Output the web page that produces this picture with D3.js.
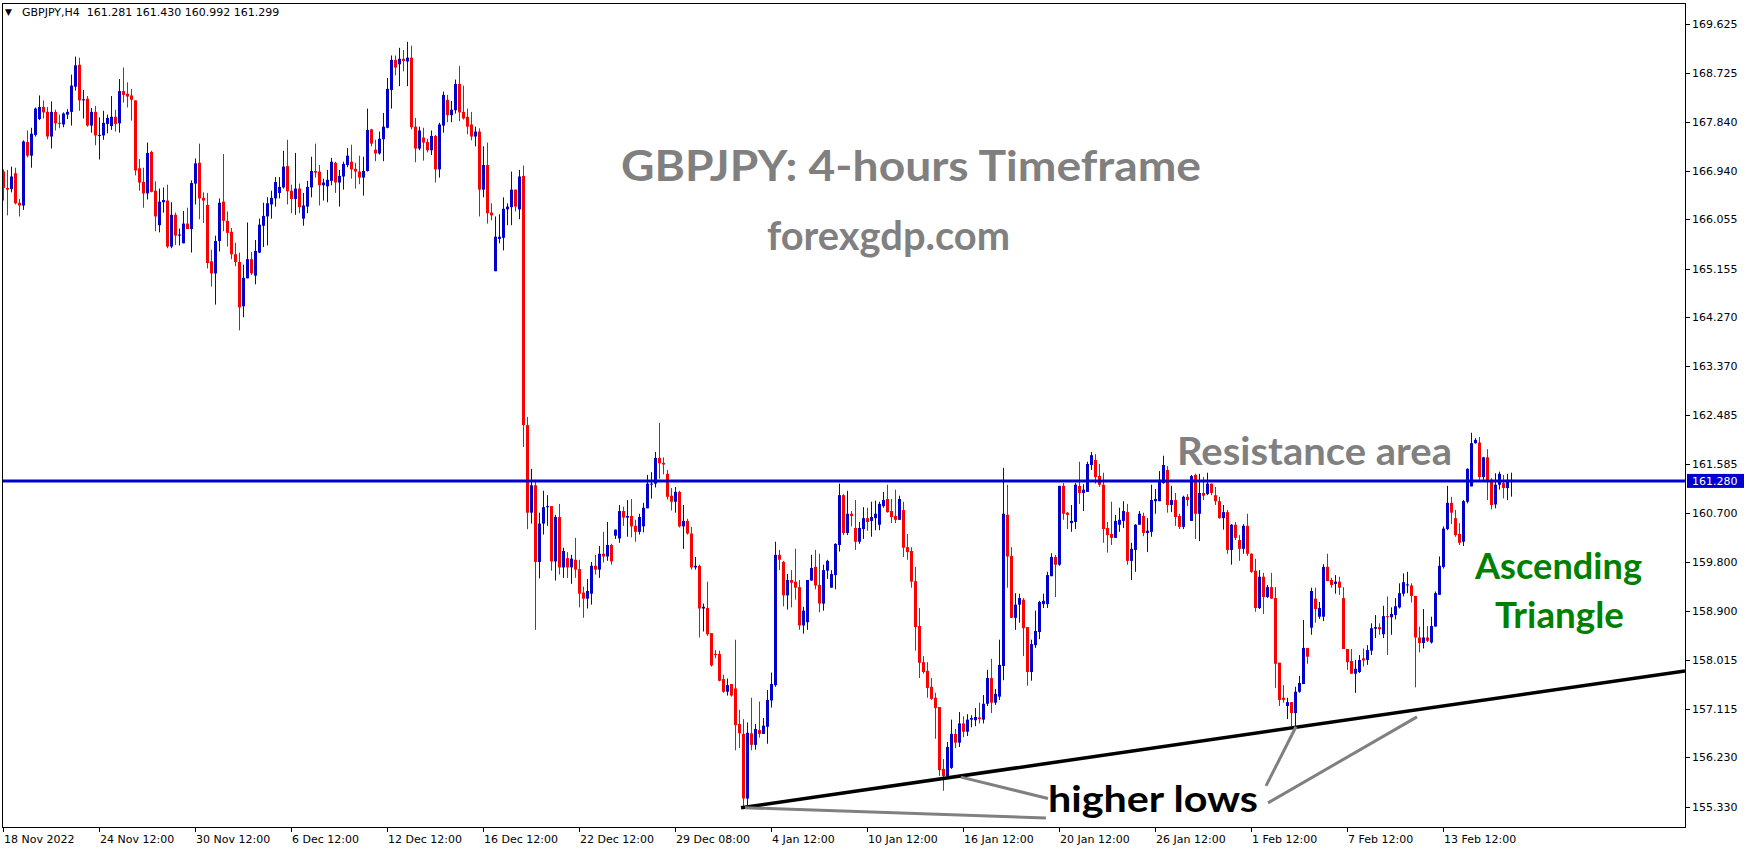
<!DOCTYPE html>
<html><head><meta charset="utf-8">
<script src="https://cdn.jsdelivr.net/npm/d3@7/dist/d3.min.js"></script>
<style>html,body{margin:0;padding:0;background:#fff;}svg{display:block;}</style>
</head><body>
<svg id="chart" width="1749" height="850"></svg>
<script>
// ---- data (GBPJPY H4, one value per 4-hour bar) ----
const open = [
166.93,166.63,166.61,166.90,166.36,166.31,167.47,167.22,167.60,167.89,
168.11,168.02,167.57,168.02,167.82,167.79,167.97,168.02,168.48,168.88,
168.23,168.26,167.77,168.02,167.59,167.59,167.80,167.76,167.93,167.81,
168.40,168.35,168.32,168.23,166.99,166.74,166.53,167.29,166.58,165.95,
166.37,166.40,165.56,166.14,165.76,165.62,165.98,165.88,166.71,167.09,
166.45,166.32,165.29,165.07,165.66,166.38,166.03,165.83,165.42,165.28,
164.47,164.98,165.33,165.03,165.45,165.94,166.11,166.33,166.44,166.54,
166.64,167.03,166.58,166.43,166.62,166.07,166.29,166.64,166.94,166.93,
166.68,166.66,166.76,167.09,166.73,166.84,167.05,167.11,166.98,166.93,
166.82,166.94,167.70,167.33,167.26,167.52,167.73,168.42,168.97,168.89,
168.99,168.94,169.01,167.75,167.35,167.55,167.47,167.32,167.58,166.97,
167.77,168.24,167.96,168.05,168.53,168.02,167.93,167.79,167.57,167.66,
166.60,167.05,166.18,165.11,165.70,165.72,166.24,166.28,166.60,166.24,
166.85,162.30,160.70,161.20,159.80,160.50,160.80,160.82,159.81,160.62,
159.70,159.87,159.70,159.84,159.67,159.24,159.13,159.22,159.73,159.66,
159.95,159.90,160.11,160.28,160.23,160.73,160.61,160.64,160.46,160.35,
160.45,160.78,161.22,161.23,161.70,161.61,161.41,161.01,160.90,161.08,
160.45,160.55,160.32,159.70,159.73,158.95,158.96,158.50,158.12,158.12,
157.66,157.43,157.57,157.49,156.84,156.66,155.48,156.67,156.46,156.73,
156.66,156.79,157.27,157.55,159.93,159.80,159.19,159.47,159.44,159.34,
158.64,158.70,159.46,159.71,159.38,159.04,159.64,159.33,159.56,160.11,
161.02,160.33,160.68,160.42,160.17,160.40,160.60,160.55,160.60,160.48,
160.82,160.95,160.73,160.64,160.57,160.75,160.07,160.00,159.45,158.63,
157.97,157.81,157.52,157.32,157.15,156.02,155.89,156.04,156.66,156.50,
156.85,156.70,156.92,156.91,156.96,156.92,157.21,157.68,157.23,157.34,
157.90,160.66,159.91,158.78,159.02,159.11,158.61,157.79,158.28,158.52,
159.03,159.03,159.54,159.89,159.75,161.19,160.70,160.51,160.53,161.19,
161.06,161.08,161.57,161.66,161.37,161.21,160.42,160.31,160.24,160.48,
160.55,160.71,159.82,160.02,160.48,160.64,160.33,160.35,160.91,160.91,
161.24,161.48,160.84,160.93,160.64,160.44,160.99,160.55,161.39,160.68,
161.06,161.04,161.23,161.02,160.91,160.60,160.71,160.02,160.48,160.20,
160.04,160.46,159.95,159.64,158.96,159.53,159.16,159.34,159.14,157.96,
157.32,157.17,157.24,157.04,157.43,157.57,158.23,158.60,159.13,158.80,
158.80,159.71,159.47,159.40,159.44,159.14,158.21,157.99,157.76,157.79,
158.04,158.01,158.18,158.58,158.61,158.48,158.81,158.79,158.83,158.97,
159.22,159.37,159.37,159.18,158.42,158.32,158.42,158.33,158.62,159.20,
159.71,160.40,160.88,160.60,160.31,160.17,160.90,161.18,161.97,161.98,
161.35,161.71,161.30,160.85,161.21,161.24,161.15,161.281];
const high = [
166.97,166.96,167.02,167.00,166.43,167.50,167.68,167.73,168.10,168.32,
168.23,168.11,168.21,168.06,167.97,168.01,168.07,168.70,169.03,169.01,
168.42,168.31,168.09,168.13,167.92,168.04,167.97,168.31,168.06,168.62,
168.83,168.56,168.44,168.23,167.16,167.00,167.46,167.31,166.75,166.62,
166.64,166.69,166.37,166.18,165.89,166.21,166.27,166.77,167.17,167.44,
166.55,166.54,165.50,165.76,166.44,167.25,166.20,165.90,165.63,165.45,
165.23,166.00,165.46,165.68,166.07,166.36,166.46,166.58,166.83,166.83,
167.31,167.51,166.69,167.27,166.71,166.54,166.76,167.20,167.44,167.05,
166.80,166.96,167.18,167.11,166.96,167.11,167.36,167.42,167.09,167.22,
167.20,168.08,167.71,167.51,167.66,168.00,168.64,169.05,169.05,169.19,
169.15,169.30,169.23,167.91,167.75,167.73,167.53,167.68,167.60,167.82,
168.39,168.33,168.22,168.61,168.86,168.50,168.08,168.02,167.75,167.72,
167.39,167.46,166.35,166.11,166.15,166.46,166.35,166.93,166.60,166.96,
167.04,162.45,161.50,161.30,160.70,161.10,161.02,160.82,160.66,160.86,
160.06,159.98,159.93,160.24,159.84,159.35,159.49,159.80,159.93,160.09,
160.35,160.53,160.13,160.39,160.84,160.81,160.93,160.95,160.57,160.68,
160.88,161.39,161.44,161.81,162.34,161.71,161.48,161.15,161.17,161.10,
160.84,160.59,160.44,159.89,159.75,159.04,159.44,158.50,158.19,158.18,
157.74,157.67,157.57,158.38,157.10,156.93,156.87,157.32,156.84,157.25,
156.95,157.46,157.78,160.17,160.02,159.82,159.58,159.65,160.04,159.47,
158.98,159.47,159.93,160.02,159.95,159.75,159.84,159.65,160.14,161.23,
161.04,161.10,160.73,160.93,160.53,160.80,160.79,160.90,160.92,160.90,
161.08,161.21,160.95,161.12,161.01,160.90,160.31,160.07,159.71,158.96,
158.08,157.97,157.68,157.41,157.15,156.20,156.51,156.92,156.75,157.06,
156.98,157.02,157.00,157.13,157.23,157.37,157.83,158.03,157.48,158.38,
161.52,161.21,160.07,159.23,159.22,159.14,158.61,158.38,158.91,159.09,
159.22,159.62,159.96,159.93,161.19,161.24,160.71,160.84,161.24,161.63,
161.22,161.63,161.81,161.77,161.59,161.43,160.53,160.90,160.66,160.79,
160.91,160.86,160.15,160.49,160.73,160.70,160.60,161.21,161.13,161.46,
161.74,161.55,161.19,161.06,160.68,161.01,161.04,161.39,161.41,161.41,
161.35,161.43,161.23,161.17,160.99,160.84,160.75,160.49,160.53,160.29,
160.49,160.68,159.96,159.86,159.65,159.60,159.38,159.60,159.34,157.96,
157.55,157.32,157.24,157.52,157.72,158.74,158.23,159.33,159.33,159.07,
159.76,159.95,159.51,159.56,159.53,159.34,158.21,158.21,158.01,158.10,
158.22,158.28,158.68,158.83,158.68,159.00,159.17,158.97,159.14,159.41,
159.59,159.62,159.41,159.18,158.62,158.94,158.63,158.80,159.26,159.90,
160.45,161.19,160.99,160.75,160.51,160.93,161.51,162.16,162.06,162.08,
161.72,161.86,161.33,161.42,161.45,161.39,161.41,161.430];
const low = [
166.40,166.13,166.55,166.33,166.11,166.23,167.19,167.00,167.57,167.87,
167.90,167.52,167.35,167.68,167.72,167.74,167.89,167.77,168.41,168.04,
167.90,167.75,167.64,167.41,167.15,167.51,167.63,167.69,167.66,167.64,
168.19,168.10,167.86,166.86,166.58,166.27,166.42,166.55,165.84,165.82,
166.18,165.53,165.53,165.59,165.58,165.62,165.88,165.45,166.33,166.06,
165.99,165.16,164.83,164.50,165.47,165.84,165.56,165.33,165.20,164.03,
164.27,164.98,165.04,164.87,165.44,165.55,165.58,166.07,166.29,166.44,
166.62,166.33,166.17,166.14,166.17,165.94,166.17,166.46,166.82,166.31,
166.40,166.37,166.68,166.54,166.29,166.60,167.01,166.80,166.62,166.70,
166.49,166.93,167.39,167.12,167.24,167.12,167.72,168.08,168.69,168.49,
168.76,168.49,167.70,167.10,167.32,167.13,167.28,167.23,166.73,166.82,
167.64,167.83,167.83,167.99,167.85,167.88,167.61,167.50,167.39,166.11,
166.46,165.98,166.04,165.11,165.62,165.49,165.95,165.95,166.20,166.06,
161.90,160.40,160.50,158.56,159.50,160.30,160.46,159.64,159.46,159.57,
159.51,159.51,159.40,159.51,158.97,158.78,158.95,159.02,159.57,159.51,
159.79,159.82,159.75,160.22,160.15,160.46,160.26,160.25,160.17,160.30,
160.34,160.78,160.96,161.16,161.32,161.40,160.94,160.74,160.70,160.43,
160.04,160.30,159.66,159.66,158.42,158.53,158.45,157.89,158.04,157.62,
157.41,157.36,157.34,156.36,156.40,155.33,155.33,156.36,156.37,156.59,
156.66,156.48,157.14,157.52,159.65,158.99,158.93,158.97,159.11,158.56,
158.49,158.56,159.46,159.30,158.88,158.91,159.49,159.33,159.30,159.99,
160.29,160.29,160.45,160.02,160.13,160.22,160.37,160.26,160.38,160.38,
160.79,160.70,160.51,160.51,160.57,159.89,159.84,159.33,158.18,157.68,
157.76,157.32,157.28,156.57,155.89,155.62,155.89,156.02,156.40,156.42,
156.60,156.62,156.78,156.80,156.85,156.85,157.17,157.04,157.19,157.28,
157.64,159.33,158.78,158.56,158.69,158.08,157.54,157.63,158.23,158.39,
158.96,158.96,159.54,159.16,159.73,160.57,160.40,160.35,160.40,160.86,
160.73,161.08,161.48,161.23,161.17,160.15,159.97,160.11,160.24,160.35,
160.42,159.75,159.47,159.62,160.48,160.27,159.98,160.26,160.68,160.91,
161.23,160.70,160.71,160.46,160.40,160.40,160.82,160.55,160.22,160.18,
160.93,161.02,161.02,160.84,160.59,160.39,159.95,159.75,160.20,159.82,
159.95,159.91,159.60,158.89,158.94,158.85,159.14,159.13,157.50,157.17,
157.23,156.93,156.79,156.77,157.41,157.57,157.94,158.47,158.69,158.76,
158.72,159.45,159.33,159.22,159.20,158.21,157.83,157.76,157.41,157.77,
157.89,157.92,158.10,158.41,158.47,158.41,158.10,158.47,158.75,158.95,
159.17,159.23,159.06,157.51,158.15,158.22,158.34,158.31,158.62,159.20,
159.68,160.38,160.49,160.26,160.11,160.09,160.87,161.18,161.96,161.30,
161.30,160.93,160.76,160.78,161.12,160.96,160.93,160.992];
const close = [
166.63,166.60,166.84,166.35,166.31,167.48,167.22,167.62,168.08,168.11,
168.01,167.57,168.02,167.81,167.81,167.99,168.02,168.50,168.87,168.23,
168.25,167.77,168.02,167.59,167.60,167.82,167.91,167.93,167.80,168.40,
168.33,168.30,168.24,166.95,166.73,166.53,167.27,166.56,166.11,166.38,
166.41,165.56,166.14,165.76,165.78,165.98,165.88,166.72,167.08,166.44,
166.40,165.26,165.07,165.66,166.36,166.03,165.81,165.42,165.28,164.45,
164.99,165.33,165.07,165.48,165.96,166.12,166.35,166.45,166.74,166.65,
167.02,166.57,166.43,166.62,166.28,166.31,166.65,166.94,166.91,166.68,
166.73,166.78,167.11,166.73,166.85,167.07,167.22,166.97,166.93,166.82,
166.94,167.69,167.44,167.26,167.53,167.75,168.44,168.97,168.83,168.99,
168.95,169.01,167.74,167.35,167.68,167.46,167.32,167.58,166.97,167.79,
168.33,167.96,168.06,168.53,168.01,167.90,167.75,167.57,167.66,166.60,
167.05,166.17,166.13,165.74,165.74,166.25,166.29,166.60,166.29,166.84,
162.30,160.70,161.20,159.80,160.50,160.80,160.82,159.81,160.62,159.70,
160.00,159.70,159.86,159.66,159.22,159.13,159.27,159.73,159.66,159.95,
159.90,160.11,159.81,160.39,160.73,160.61,160.64,160.45,160.35,160.62,
160.79,161.23,161.23,161.70,161.60,161.58,160.99,160.90,161.08,160.45,
160.55,160.32,159.70,159.73,158.95,158.98,158.48,157.91,158.10,157.63,
157.43,157.55,157.36,156.82,156.67,155.48,156.68,156.46,156.75,156.66,
156.81,157.28,157.57,159.93,159.84,159.19,159.47,159.42,159.33,158.64,
158.91,159.47,159.69,159.37,159.04,159.65,159.82,159.58,160.13,161.02,
160.33,160.68,160.64,160.17,160.42,160.60,160.53,160.62,160.68,160.86,
160.93,160.71,160.62,160.57,160.95,160.06,159.98,159.44,158.61,157.96,
157.79,157.50,157.30,157.13,156.00,155.89,156.42,156.66,156.50,156.85,
156.70,156.92,156.95,156.97,156.93,157.21,157.68,157.23,157.39,157.92,
160.68,159.90,158.78,159.02,159.14,158.59,157.79,158.30,158.54,159.07,
159.09,159.56,159.89,159.75,161.19,160.68,160.66,160.55,161.21,161.06,
161.12,161.59,161.75,161.35,161.21,160.40,160.29,160.24,160.55,160.57,
160.73,159.82,160.04,160.48,160.68,160.33,160.37,160.93,160.95,161.30,
161.57,160.84,160.93,160.62,160.44,160.99,160.93,161.37,160.68,161.06,
161.01,161.23,161.06,160.91,160.60,160.71,160.02,160.48,160.24,160.04,
160.46,159.95,159.62,158.96,159.53,159.16,159.34,159.13,157.94,157.28,
157.28,157.24,157.04,157.43,157.59,158.23,158.07,159.27,158.94,158.96,
159.71,159.45,159.38,159.44,159.33,158.21,157.97,157.76,157.85,158.01,
158.00,158.19,158.59,158.61,158.57,158.81,158.79,158.85,158.99,159.23,
159.43,159.39,159.18,158.42,158.32,158.42,158.36,158.63,159.23,159.73,
160.41,160.88,160.70,160.29,160.15,160.91,161.50,161.97,162.03,161.35,
161.71,161.27,160.84,161.21,161.41,161.15,161.30,161.299];

const priceTicks = [169.625,168.725,167.840,166.940,166.055,165.155,164.270,163.370,162.485,161.585,160.700,159.800,158.900,158.015,157.115,156.230,155.330];
const dateTickBars = [0,24,48,72,96,120,144,168,192,216,240,264,288,312,336,360];
const dateTickLabels = ["18 Nov 2022","24 Nov 12:00","30 Nov 12:00","6 Dec 12:00","12 Dec 12:00","16 Dec 12:00","22 Dec 12:00","29 Dec 08:00","4 Jan 12:00","10 Jan 12:00","16 Jan 12:00","20 Jan 12:00","26 Jan 12:00","1 Feb 12:00","7 Feb 12:00","13 Feb 12:00"];
const headerText = "GBPJPY,H4\u00A0\u00A0161.281 161.430 160.992 161.299";
const resistanceLevel = 161.28;
// ascending trendline (bar index, price)
const trendBars = [184.5, 420.5];
const trendPrices = [155.31, 157.81];
// "higher lows" pointer lines: [barFrom, priceFrom, barTo, priceTo]
const pointerFromBars  = [185.5, 239.5, 315.75, 316.25];
const pointerFromPrice = [155.31, 155.87, 155.71, 155.40];
const pointerToBars    = [260.75, 261.25, 323.25, 353.5];
const pointerToPrice   = [155.125, 155.48, 156.79, 156.97];

// ---- drawing ----
const svg = d3.select("#chart");
const L = 2, T = 3, R = 1685, B = 827;
const x = d3.scaleLinear().domain([0, 420.5]).range([3, 1685]);
const y = d3.scaleLinear().domain([154.9593, 170.0085]).range([B, T]);
const BLUE = "#0000cd", RED = "#ff0000";
const axisFont = "'DejaVu Sans', sans-serif";

svg.append("defs").append("clipPath").attr("id","clip")
  .append("rect").attr("x",L).attr("y",T).attr("width",R-L).attr("height",B-T);

const plotG = svg.append("g").attr("clip-path","url(#clip)");
const idx = d3.range(open.length);
const up = i => close[i] >= open[i];

plotG.append("g").selectAll("line").data(idx).join("line")
  .attr("x1", i => Math.round(x(i)) + 0.5).attr("x2", i => Math.round(x(i)) + 0.5)
  .attr("y1", i => y(high[i])).attr("y2", i => y(low[i]))
  .attr("stroke", i => up(i) ? BLUE : RED).attr("stroke-width", 1);

plotG.append("g").selectAll("rect").data(idx).join("rect")
  .attr("x", i => Math.round(x(i)) - 1)
  .attr("width", 3)
  .attr("y", i => y(Math.max(open[i], close[i])))
  .attr("height", i => Math.max(1, y(Math.min(open[i], close[i])) - y(Math.max(open[i], close[i]))))
  .attr("fill", i => up(i) ? BLUE : RED);

// resistance line
plotG.append("line")
  .attr("x1", L).attr("x2", R)
  .attr("y1", y(resistanceLevel)).attr("y2", y(resistanceLevel))
  .attr("stroke", BLUE).attr("stroke-width", 3);

// trendline
plotG.append("line")
  .attr("x1", x(trendBars[0])).attr("y1", y(trendPrices[0]))
  .attr("x2", x(trendBars[1])).attr("y2", y(trendPrices[1]))
  .attr("stroke", "#000").attr("stroke-width", 3.5);

// pointer lines
plotG.append("g").selectAll("line").data(d3.range(pointerFromBars.length)).join("line")
  .attr("x1", k => x(pointerFromBars[k])).attr("y1", k => y(pointerFromPrice[k]))
  .attr("x2", k => x(pointerToBars[k])).attr("y2", k => y(pointerToPrice[k]))
  .attr("stroke", "#808080").attr("stroke-width", 3);

// frame
svg.append("rect").attr("x", L + 0.5).attr("y", T + 0.5).attr("width", R - L).attr("height", B - T)
  .attr("fill", "none").attr("stroke", "#000").attr("stroke-width", 1);

// right price axis
const ra = svg.append("g");
ra.selectAll("line").data(priceTicks).join("line")
  .attr("x1", R).attr("x2", R + 5)
  .attr("y1", d => Math.round(y(d)) + 0.5).attr("y2", d => Math.round(y(d)) + 0.5)
  .attr("stroke", "#000");
ra.selectAll("text").data(priceTicks).join("text")
  .attr("x", R + 7).attr("y", d => y(d) + 4)
  .attr("font-family", axisFont).attr("font-size", 11).attr("fill", "#000")
  .text(d => d.toFixed(3));
// current price label
svg.append("rect").attr("x", R + 2).attr("y", y(resistanceLevel) - 7).attr("width", 57).attr("height", 14)
  .attr("fill", BLUE);
svg.append("text").attr("x", R + 7).attr("y", y(resistanceLevel) + 4)
  .attr("font-family", axisFont).attr("font-size", 11).attr("fill", "#fff")
  .text(resistanceLevel.toFixed(3));

// bottom date axis
const ba = svg.append("g");
ba.selectAll("line").data(dateTickBars).join("line")
  .attr("x1", d => Math.round(x(d)) + 0.5).attr("x2", d => Math.round(x(d)) + 0.5)
  .attr("y1", B).attr("y2", B + 5).attr("stroke", "#000");
ba.selectAll("text").data(dateTickBars).join("text")
  .attr("x", d => Math.round(x(d)) + 1).attr("y", B + 16)
  .attr("font-family", axisFont).attr("font-size", 11).attr("fill", "#000")
  .text((d, k) => dateTickLabels[k]);

// header
svg.append("text").attr("x", 5).attr("y", 15).attr("font-family", axisFont).attr("font-size", 9).text("\u25BC");
svg.append("text").attr("x", 22).attr("y", 16).attr("font-family", axisFont).attr("font-size", 11)
  .style("white-space", "pre").text(headerText);

// annotations
const ann = svg.append("g").attr("font-family", "Lato, 'Open Sans', sans-serif").attr("font-weight", "bold");
ann.append("text").attr("x", 621).attr("y", 181).attr("font-size", 42).attr("fill", "#808080")
  .attr("textLength", 580).attr("lengthAdjust", "spacingAndGlyphs").text("GBPJPY: 4-hours Timeframe");
ann.append("text").attr("x", 767).attr("y", 250).attr("font-size", 40).attr("fill", "#808080")
  .attr("textLength", 243).attr("lengthAdjust", "spacingAndGlyphs").text("forexgdp.com");
ann.append("text").attr("x", 1177).attr("y", 465).attr("font-size", 39).attr("fill", "#808080")
  .attr("textLength", 275).attr("lengthAdjust", "spacingAndGlyphs").text("Resistance area");
ann.append("text").attr("x", 1475).attr("y", 579).attr("font-size", 36).attr("fill", "#008000")
  .attr("textLength", 167).attr("lengthAdjust", "spacingAndGlyphs").text("Ascending");
ann.append("text").attr("x", 1495).attr("y", 628).attr("font-size", 36).attr("fill", "#008000")
  .attr("textLength", 129).attr("lengthAdjust", "spacingAndGlyphs").text("Triangle");
ann.append("text").attr("x", 1048).attr("y", 812).attr("font-size", 36).attr("fill", "#000")
  .attr("textLength", 210).attr("lengthAdjust", "spacingAndGlyphs").text("higher lows");
</script>
</body></html>
